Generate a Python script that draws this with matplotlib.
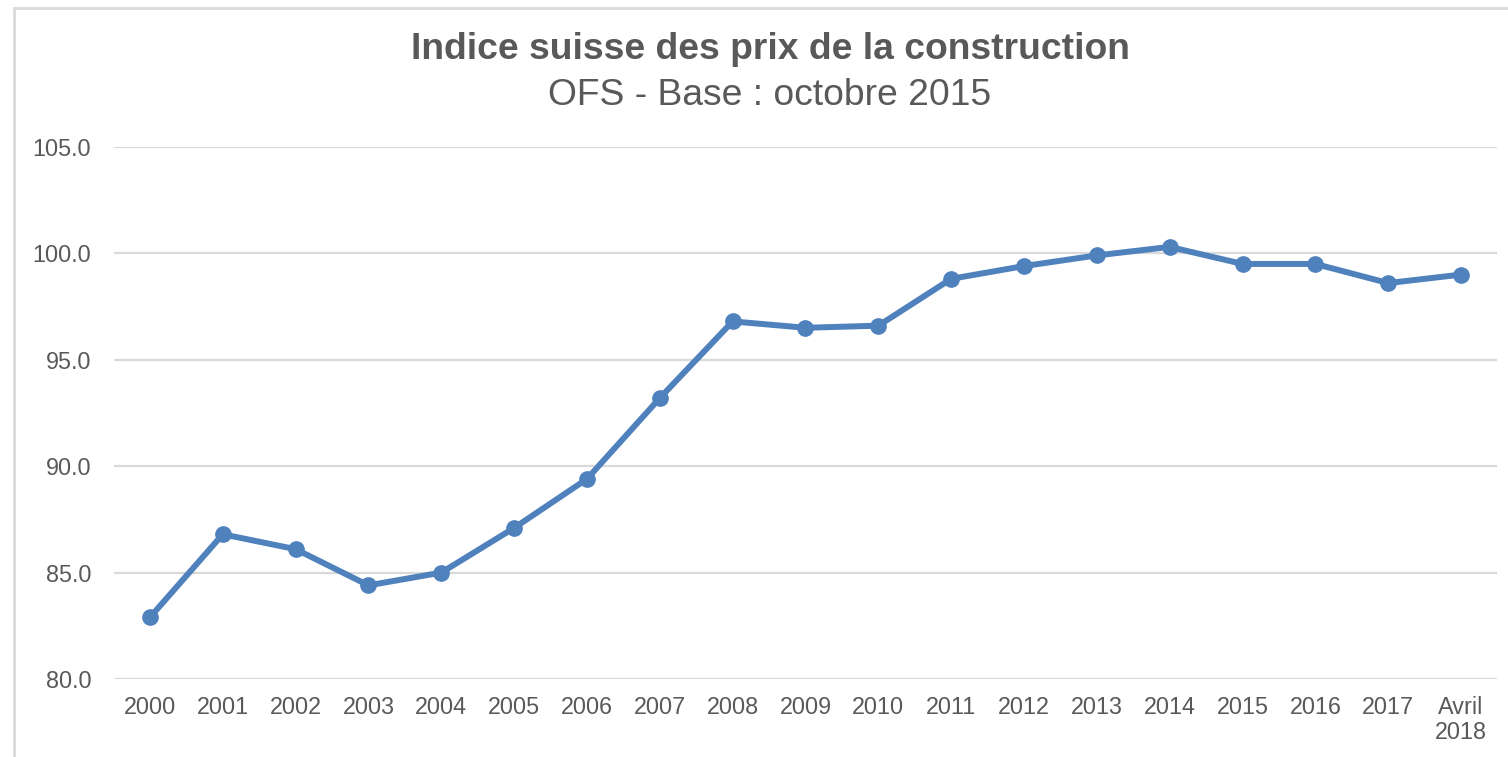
"""Indice suisse des prix de la construction (OFS, base octobre 2015)."""

import matplotlib
import matplotlib.pyplot as plt
from matplotlib.patches import Rectangle

matplotlib.use("Agg")

CATEGORIES = ["2000", "2001", "2002", "2003", "2004", "2005", "2006", "2007",
              "2008", "2009", "2010", "2011", "2012", "2013", "2014", "2015",
              "2016", "2017", "Avril\n2018"]
INDEX_VALUES = [82.9, 86.8, 86.1, 84.4, 85.0, 87.1, 89.4, 93.2, 96.8, 96.5,
                96.6, 98.8, 99.4, 99.9, 100.3, 99.5, 99.5, 98.6, 99.0]
Y_TICKS = [80.0, 85.0, 90.0, 95.0, 100.0, 105.0]

LINE_COLOR = "#4F81BD"
TEXT_COLOR = "#595959"
GRID_COLOR = "#D9D9D9"

plt.rcParams["font.family"] = ["Liberation Sans", "DejaVu Sans"]


def main():
    fig = plt.figure(figsize=(15.08, 7.57), dpi=100)
    ax = fig.add_axes([0.0753, 0.103, 0.9177, 0.703])

    x = range(len(CATEGORIES))
    ax.plot(x, INDEX_VALUES, color=LINE_COLOR, linewidth=4.3, marker="o",
            markersize=11, zorder=3, solid_capstyle="round", solid_joinstyle="round")

    ax.set_xlim(-0.5, len(CATEGORIES) - 0.5)
    ax.set_ylim(80, 105)
    ax.set_yticks(Y_TICKS)
    ax.set_yticklabels([f"{v:.1f}" for v in Y_TICKS])
    ax.set_xticks(list(x))
    ax.set_xticklabels(CATEGORIES, linespacing=1.15, va="top")

    ax.grid(axis="y", color=GRID_COLOR, linewidth=1.6)
    ax.set_axisbelow(True)
    for side in ("top", "right", "left", "bottom"):
        ax.spines[side].set_visible(False)
    ax.tick_params(axis="both", length=0, labelsize=16.8, colors=TEXT_COLOR)
    ax.tick_params(axis="y", pad=16)
    ax.tick_params(axis="x", pad=12)

    fig.text(0.5106, 0.935, "Indice suisse des prix de la construction",
             ha="center", va="center", fontsize=26.8, fontweight="bold", color=TEXT_COLOR)
    fig.text(0.5106, 0.874, "OFS - Base : octobre 2015",
             ha="center", va="center", fontsize=26.8, color=TEXT_COLOR)

    # chart-area frame as in the spreadsheet export
    fig.patches.append(Rectangle((0.0093, -0.01), 1.1, 1.0, transform=fig.transFigure,
                                 fill=False, edgecolor=GRID_COLOR, linewidth=2))

    fig.savefig("out.png", dpi=100)
    plt.close(fig)


if __name__ == "__main__":
    main()
